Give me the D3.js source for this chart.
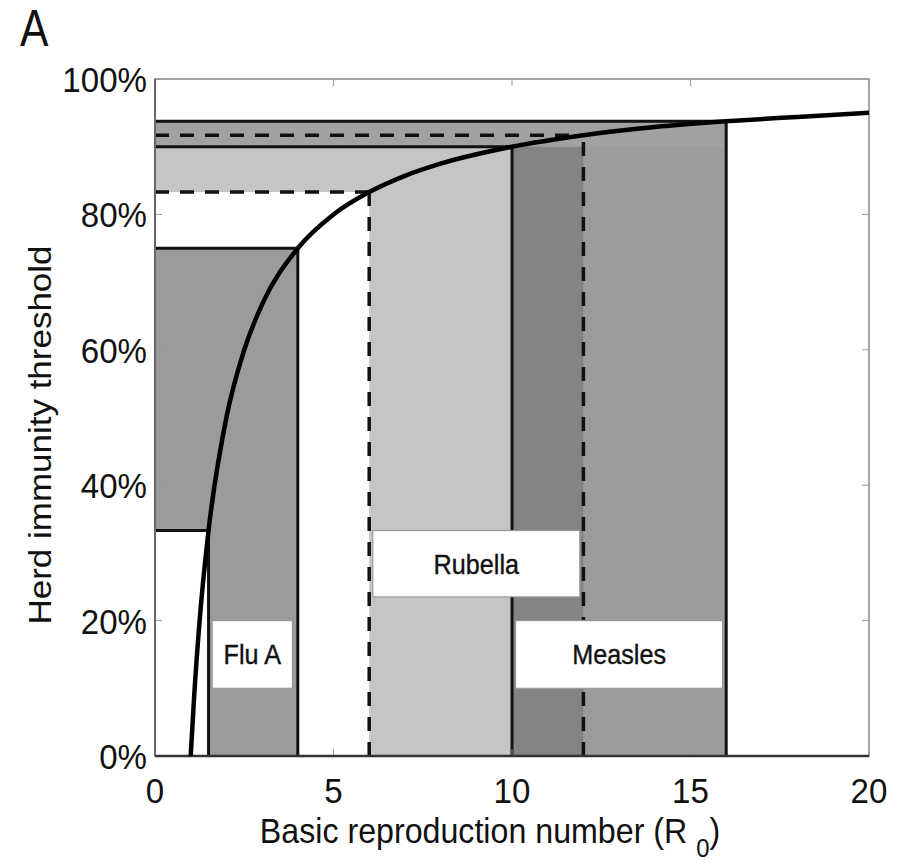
<!DOCTYPE html>
<html>
<head>
<meta charset="utf-8">
<script src="https://cdn.jsdelivr.net/npm/d3@7"></script>
<style>
  body { margin: 0; background: #fff; }
  text { font-family: "Liberation Sans", Arial, Helvetica, sans-serif; fill: #111; }
</style>
</head>
<body>
<svg id="chart" width="907" height="864"></svg>
<script>
// herd immunity curve (R0 -> threshold %)
var curveR0 = [1, 1.1, 1.25, 1.5, 2, 2.5, 3, 4, 5, 6, 7, 8, 10, 12, 14, 16, 18, 20];
var curveHIT = [0, 9.1, 20, 33.3, 50, 60, 66.7, 75, 80, 83.3, 85.7, 87.5, 90, 91.7, 92.9, 93.75, 94.4, 95];

// diseases
var diseases = ["Flu A", "Rubella", "Measles"];
var r0Low = [1.5, 6, 10];
var r0High = [4, 10, 16];
var hitLow = [33.3, 83.3, 90];
var hitHigh = [75, 90, 93.75];
var dashR0 = [6, 12];
var dashHIT = [83.3, 91.7];

// label boxes (R0 range, % range)
var boxR0 = [[1.6, 3.85], [6.1, 11.9], [10.1, 15.9]];
var boxHIT = [[10, 20], [23.5, 33.3], [10, 20]];

var xTicks = [0, 5, 10, 15, 20];
var yTicks = [0, 20, 40, 60, 80, 100];

var margin = {"left": 155, "right": 38, "top": 79, "bottom": 108};
var width = 907, height = 864;
var sx = 0.92; // the figure is a bit narrow horizontally

var svg = d3.select("#chart");

var x = d3.scaleLinear().domain([0, 20]).range([margin.left, width - margin.right]);
var y = d3.scaleLinear().domain([0, 100]).range([height - margin.bottom, margin.top]);

// shaded regions, drawn back to front
var shades = [
  {x0: 0, x1: r0High[0], y0: hitLow[0], y1: hitHigh[0], fill: "#9b9b9b"},
  {x0: r0Low[0], x1: r0High[0], y0: 0, y1: hitHigh[0], fill: "#9b9b9b"},
  {x0: 0, x1: r0High[1], y0: hitLow[1], y1: hitHigh[1], fill: "#c5c5c5"},
  {x0: r0Low[1], x1: r0High[1], y0: 0, y1: hitHigh[1], fill: "#c5c5c5"},
  {x0: r0Low[2], x1: r0High[2], y0: 0, y1: hitHigh[2], fill: "#9c9c9c"},
  {x0: r0Low[2], x1: dashR0[1], y0: 0, y1: hitLow[2], fill: "#848484"},
  {x0: 0, x1: r0High[2], y0: hitLow[2], y1: hitHigh[2], fill: "#a1a1a1"}
];

svg.append("g").selectAll("rect")
   .data(shades)
   .enter().append("rect")
   .attr("x", function(d) {return x(d.x0);})
   .attr("y", function(d) {return y(d.y1);})
   .attr("width", function(d) {return x(d.x1) - x(d.x0);})
   .attr("height", function(d) {return y(d.y0) - y(d.y1);})
   .attr("fill", function(d) {return d.fill;});

// solid boundary lines
var solid = [];
for (var i = 0; i < diseases.length; i++) {
  solid.push([[r0High[i], 0], [r0High[i], hitHigh[i]]]);
  solid.push([[0, hitHigh[i]], [r0High[i], hitHigh[i]]]);
}
solid.push([[r0Low[0], 0], [r0Low[0], hitLow[0]]]);
solid.push([[0, hitLow[0]], [r0Low[0], hitLow[0]]]);

var line = d3.line().x(function(d) {return x(d[0]);}).y(function(d) {return y(d[1]);});

svg.append("g").selectAll("path")
   .data(solid)
   .enter().append("path")
   .attr("d", line)
   .attr("stroke", "#111")
   .attr("stroke-width", 3)
   .attr("fill", "none");

// dashed lines
var dashed = [];
for (var j = 0; j < dashR0.length; j++) {
  dashed.push([[dashR0[j], 0], [dashR0[j], dashHIT[j]]]);
  dashed.push([[0, dashHIT[j]], [dashR0[j], dashHIT[j]]]);
}

svg.append("g").selectAll("path")
   .data(dashed)
   .enter().append("path")
   .attr("d", line)
   .attr("stroke", "#111")
   .attr("stroke-width", 3.5)
   .attr("stroke-dasharray", "14,11")
   .attr("fill", "none");

// frame + inward ticks
var frame = svg.append("g");
frame.append("rect")
     .attr("x", x(0)).attr("y", y(100))
     .attr("width", x(20) - x(0)).attr("height", y(0) - y(100))
     .attr("fill", "none").attr("stroke", "#888").attr("stroke-width", 1.5);

var tk = 7;
xTicks.forEach(function(t) {
  frame.append("line").attr("x1", x(t)).attr("x2", x(t)).attr("y1", y(0)).attr("y2", y(0) - tk)
       .attr("stroke", "#999").attr("stroke-width", 1);
  frame.append("line").attr("x1", x(t)).attr("x2", x(t)).attr("y1", y(100)).attr("y2", y(100) + tk)
       .attr("stroke", "#999").attr("stroke-width", 1);
});
yTicks.forEach(function(t) {
  frame.append("line").attr("x1", x(0)).attr("x2", x(0) + tk).attr("y1", y(t)).attr("y2", y(t))
       .attr("stroke", "#999").attr("stroke-width", 1);
  frame.append("line").attr("x1", x(20)).attr("x2", x(20) - tk).attr("y1", y(t)).attr("y2", y(t))
       .attr("stroke", "#999").attr("stroke-width", 1);
});
frame.append("line").attr("x1", x(0)).attr("x2", x(20)).attr("y1", y(0)).attr("y2", y(0))
     .attr("stroke", "#333").attr("stroke-width", 2.5);
frame.append("line").attr("x1", x(0)).attr("x2", x(0)).attr("y1", y(0)).attr("y2", y(100))
     .attr("stroke", "#666").attr("stroke-width", 2);

// herd immunity curve
var curve = d3.line()
              .x(function(d, i) {return x(curveR0[i]);})
              .y(function(d) {return y(d);})
              .curve(d3.curveMonotoneX);

svg.append("path")
   .attr("d", curve(curveHIT))
   .attr("stroke", "#000")
   .attr("stroke-width", 4.5)
   .attr("fill", "none");

// label boxes
var labels = svg.append("g");
for (var k = 0; k < diseases.length; k++) {
  labels.append("rect")
        .attr("x", x(boxR0[k][0]))
        .attr("y", y(boxHIT[k][1]))
        .attr("width", x(boxR0[k][1]) - x(boxR0[k][0]))
        .attr("height", y(boxHIT[k][0]) - y(boxHIT[k][1]))
        .attr("fill", "#fff")
        .attr("stroke", "#999")
        .attr("stroke-width", 1.2);
  var cx = (x(boxR0[k][0]) + x(boxR0[k][1])) / 2;
  var cy = (y(boxHIT[k][0]) + y(boxHIT[k][1])) / 2 + 10;
  labels.append("text")
        .attr("transform", "translate(" + cx + "," + cy + ") scale(0.9,1)")
        .attr("text-anchor", "middle")
        .attr("font-size", 28)
        .attr("stroke", "#111")
        .attr("stroke-width", 0.4)
        .text(diseases[k]);
}

// tick labels
svg.append("g").selectAll("text")
   .data(xTicks)
   .enter().append("text")
   .attr("transform", function(d) {return "translate(" + x(d) + ",803) scale(" + sx + ",1)";})
   .attr("text-anchor", "middle")
   .attr("font-size", 36)
   .text(function(d) {return d;});

svg.append("g").selectAll("text")
   .data(yTicks)
   .enter().append("text")
   .attr("transform", function(d) {return "translate(" + (x(0) - 8) + "," + (y(d) + 13) + ") scale(" + sx + ",1)";})
   .attr("text-anchor", "end")
   .attr("font-size", 36)
   .text(function(d) {return d + "%";});

// axis titles
var xt = svg.append("text")
            .attr("transform", "translate(" + 490 + ",843) scale(" + sx + ",1)")
            .attr("text-anchor", "middle")
            .attr("font-size", 35);
xt.append("tspan").text("Basic reproduction number (R ");
xt.append("tspan").attr("dy", 14).attr("font-size", 26).text("0");
xt.append("tspan").attr("dy", -14).text(")");

svg.append("text")
   .attr("transform", "translate(51,435) scale(" + sx + ",1) rotate(-90)")
   .attr("text-anchor", "middle")
   .attr("font-size", 35)
   .text("Herd immunity threshold");

svg.append("text")
   .attr("transform", "translate(20,46) scale(0.82,1)")
   .attr("font-size", 52)
   .text("A");
</script>
</body>
</html>
